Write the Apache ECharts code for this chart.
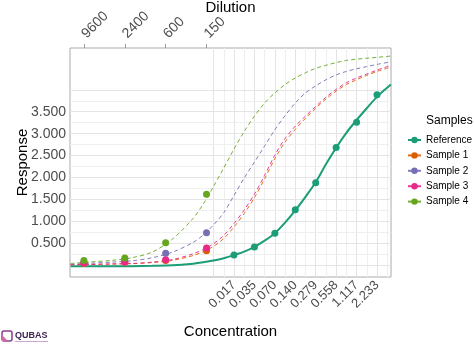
<!DOCTYPE html>
<html>
<head>
<meta charset="utf-8">
<script src="https://cdn.jsdelivr.net/npm/echarts@6/dist/echarts.min.js"></script>
<style>html,body{margin:0;padding:0;background:#fff;}#c{width:474px;height:346px;}</style>
</head>
<body>
<div id="c"></div>
<script>
// ---- data ----
const refConc = [0.01745, 0.0349, 0.0698, 0.1396, 0.2792, 0.5584, 1.117, 2.233];
const refLabels = ['0.017', '0.035', '0.070', '0.140', '0.279', '0.558', '1.117', '2.233'];
const refResponse = [0.232, 0.415, 0.726, 1.265, 1.88, 2.685, 3.26, 3.885];

const dilutionLabels = ['9600', '2400', '600', '150'];
const dilutionConc = [0.0001073, 0.000429, 0.001718, 0.00687];
const sample1 = [0.04, 0.065, 0.11, 0.33];
const sample2 = [0.065, 0.12, 0.27, 0.74];
const sample3 = [0.05, 0.075, 0.125, 0.39];
const sample4 = [0.11, 0.165, 0.51, 1.62];

const curveConc = [0.0000682, 0.0001363, 0.0002727, 0.000545, 0.001091, 0.002181, 0.004363, 0.00617, 0.008725, 0.01234, 0.01745, 0.02468, 0.0349, 0.04936, 0.0698, 0.0987, 0.1396, 0.1974, 0.2792, 0.3948, 0.5584, 0.7897, 1.117, 1.579, 2.234, 3.58];
const refCurve = [-0.026, -0.025, -0.024, -0.021, -0.014, -0.002, 0.035, 0.065, 0.105, 0.16, 0.232, 0.31, 0.42, 0.56, 0.73, 0.97, 1.25, 1.56, 1.89, 2.30, 2.68, 3.02, 3.31, 3.58, 3.84, 4.12];
const s1Curve = [0.01, 0.015, 0.025, 0.035, 0.06, 0.11, 0.22, 0.31, 0.43, 0.61, 0.87, 1.18, 1.54, 1.97, 2.43, 2.81, 3.10, 3.35, 3.58, 3.79, 3.97, 4.12, 4.23, 4.33, 4.42, 4.52];
const s2Curve = [0.02, 0.045, 0.07, 0.10, 0.17, 0.30, 0.52, 0.69, 0.92, 1.20, 1.59, 1.99, 2.35, 2.72, 3.09, 3.41, 3.70, 3.93, 4.09, 4.23, 4.34, 4.42, 4.48, 4.53, 4.58, 4.64];
const s3Curve = [0.01, 0.02, 0.03, 0.04, 0.07, 0.13, 0.26, 0.36, 0.49, 0.68, 0.95, 1.26, 1.62, 2.05, 2.51, 2.89, 3.17, 3.40, 3.62, 3.83, 4.01, 4.16, 4.27, 4.36, 4.45, 4.56];
const s4Curve = [0.04, 0.075, 0.11, 0.17, 0.30, 0.60, 1.07, 1.40, 1.80, 2.22, 2.65, 3.05, 3.40, 3.70, 3.93, 4.12, 4.27, 4.39, 4.49, 4.56, 4.62, 4.67, 4.70, 4.72, 4.74, 4.77];

const yTicks = [0.5, 1.0, 1.5, 2.0, 2.5, 3.0, 3.5];
const seriesNames = ['Reference', 'Sample 1', 'Sample 2', 'Sample 3', 'Sample 4'];
const colors = ['#1b9e77', '#d95f02', '#7570b3', '#e7298a', '#66a61e'];

// ---- build ----
const L = c => Math.log2(c);
const refU = refConc.map(L);
const dilU = dilutionConc.map(L);
const X_MIN = -13.868, X_MAX = 1.845;
const Y_MIN = -0.269, Y_MAX = 4.954;

function labelFor(v, arr, labels) {
  for (let i = 0; i < arr.length; i++) if (Math.abs(arr[i] - v) < 1e-6) return labels[i];
  return '';
}

const gridLines = [];
for (let k = -2; k <= 15; k++) {
  gridLines.push({ xAxis: refU[0] + k / 2, lineStyle: { color: k % 2 === 0 ? '#e4e4e4' : '#efefef', width: 1, type: 'solid' } });
}
for (let k = 0; k <= 16; k++) {
  gridLines.push({ yAxis: k * 0.25, lineStyle: { color: k % 2 === 0 ? '#e4e4e4' : '#efefef', width: 1, type: 'solid' } });
}

const curves = [refCurve, s1Curve, s2Curve, s3Curve, s4Curve];
const pts = [
  refConc.map((c, i) => [L(c), refResponse[i]]),
  dilutionConc.map((c, i) => [L(c), sample1[i]]),
  dilutionConc.map((c, i) => [L(c), sample2[i]]),
  dilutionConc.map((c, i) => [L(c), sample3[i]]),
  dilutionConc.map((c, i) => [L(c), sample4[i]])
];

const series = [];
curves.forEach((cv, i) => {
  series.push({
    name: seriesNames[i],
    type: 'line',
    xAxisIndex: 0,
    smooth: 0.3,
    symbol: 'circle',
    symbolSize: 6,
    showSymbol: false,
    z: 2,
    itemStyle: { color: colors[i] },
    lineStyle: i === 0 ? { color: colors[i], width: 2 } : { color: colors[i], width: 1, type: [4, 3], opacity: 0.9 },
    data: curveConc.map((c, j) => [L(c), cv[j]]),
    silent: true
  });
});
pts.forEach((p, i) => {
  const s = {
    name: seriesNames[i] + ' points',
    type: 'scatter',
    xAxisIndex: 0,
    symbol: 'circle',
    symbolSize: 7,
    z: 3,
    itemStyle: { color: colors[i], opacity: 1 },
    data: p,
    silent: true
  };
  if (i === 0) {
    s.markLine = { silent: true, z: 1, symbol: ['none', 'none'], label: { show: false }, animation: false, data: gridLines };
  }
  series.push(s);
});

const font = 'Liberation Sans, Arial, Helvetica, sans-serif';
const chart = echarts.init(document.getElementById('c'), null, { renderer: 'canvas' });
chart.setOption({
  animation: false,
  backgroundColor: '#fff',
  textStyle: { fontFamily: font },
  grid: { left: 70, right: 83, top: 48, bottom: 69, show: true, borderColor: '#aaaaaa', borderWidth: 1, backgroundColor: '#fff', containLabel: false, outerBoundsMode: 'none' },
  xAxis: [
    {
      type: 'value', position: 'bottom', min: X_MIN, max: X_MAX,
      name: 'Concentration', nameLocation: 'middle', nameGap: 47, nameMoveOverlap: false,
      nameTextStyle: { fontSize: 15, color: '#000', fontFamily: font },
      axisLine: { show: false }, splitLine: { show: false },
      axisTick: { show: true, customValues: refU, length: 4, lineStyle: { color: '#999' } },
      axisLabel: { customValues: refU, rotate: 45, fontSize: 13, color: '#4d4d4d', margin: 6, fontFamily: font,
        formatter: v => labelFor(v, refU, refLabels) }
    },
    {
      type: 'value', position: 'top', min: X_MIN, max: X_MAX,
      name: 'Dilution', nameLocation: 'middle', nameGap: 33, nameMoveOverlap: false,
      nameTextStyle: { fontSize: 15, color: '#000', fontFamily: font },
      axisLine: { show: false }, splitLine: { show: false },
      axisTick: { show: true, customValues: dilU, length: 4, lineStyle: { color: '#999' } },
      axisLabel: { customValues: dilU, rotate: -45, fontSize: 14, color: '#4d4d4d', margin: 12, fontFamily: font,
        formatter: v => labelFor(v, dilU, dilutionLabels) }
    }
  ],
  yAxis: {
    type: 'value', min: Y_MIN, max: Y_MAX,
    name: 'Response', nameLocation: 'middle', nameGap: 40, nameMoveOverlap: false,
    nameTextStyle: { fontSize: 15, color: '#000', fontFamily: font },
    axisLine: { show: false }, splitLine: { show: false },
    axisTick: { show: true, customValues: yTicks, length: 3, lineStyle: { color: '#999' } },
    axisLabel: { customValues: yTicks, fontSize: 14, color: '#4d4d4d', margin: 4, fontFamily: font,
      formatter: v => v.toFixed(3) }
  },
  legend: {
    data: seriesNames,
    orient: 'vertical',
    left: 407, top: 134, padding: 0,
    itemWidth: 13, itemHeight: 8, itemGap: 3.4,
    selectedMode: false,
    textStyle: { fontSize: 10, color: '#000', lineHeight: 12, fontFamily: font },
    lineStyle: { type: 'solid', width: 2 }
  },
  graphic: [
    { type: 'text', left: 426, top: 115, style: { text: 'Samples', fontSize: 12, fill: '#000', font: '12px ' + font } },
    { type: 'rect', shape: { x: 2, y: 331, width: 10, height: 10, r: 2 }, style: { fill: 'none', stroke: '#8a3c8f', lineWidth: 1.5 } },
    { type: 'polygon', shape: { points: [[2, 335], [8, 341], [2, 341]] }, style: { fill: '#d36ba6' } },
    { type: 'text', x: 15, y: 331, style: { text: 'QUBAS', fill: '#3d2452', font: 'bold 9px ' + font } },
    { type: 'rect', shape: { x: 15, y: 341, width: 33, height: 1 }, style: { fill: '#c9a9cf' } }
  ],
  series: series
});
</script>
</body>
</html>
